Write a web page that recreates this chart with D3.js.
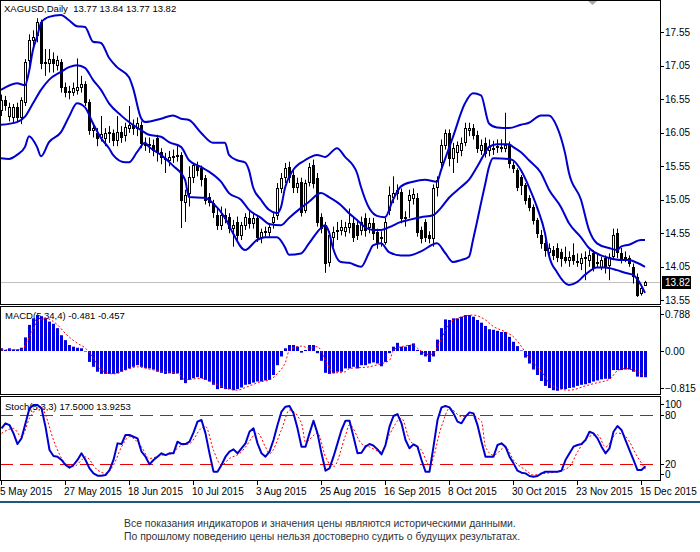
<!DOCTYPE html>
<html>
<head>
<meta charset="utf-8">
<script src="https://d3js.org/d3.v7.min.js"></script>
<style>
  body { margin: 0; background: #fff; }
  svg { display: block; font-family: "Liberation Sans", Arial, sans-serif; }
</style>
</head>
<body>
<svg id="chart" width="700" height="552"></svg>
<script>
// ---- data (XAGUSD daily, 5 May .. 16 Dec 2015) ----
const open = [16.39,16.54,16.30,16.28,16.43,16.28,16.51,17.14,17.44,17.51,
  17.70,17.09,17.09,17.15,17.06,17.11,16.73,16.66,16.66,16.69,
  16.73,16.78,16.51,16.09,16.05,15.98,15.97,16.05,16.05,15.94,
  16.06,16.02,16.12,16.17,16.12,16.17,15.88,15.87,15.87,15.97,
  15.76,15.67,15.64,15.69,15.70,15.72,15.02,15.15,15.39,15.57,
  15.52,15.38,15.09,15.00,14.82,14.67,14.82,14.79,14.63,14.72,
  14.52,14.67,14.78,14.70,14.78,14.49,14.57,14.57,14.72,14.82,
  15.23,15.38,15.54,15.42,15.24,15.32,14.90,15.32,15.57,15.38,
  14.79,14.67,14.11,14.49,14.58,14.60,14.58,14.64,14.70,14.67,
  14.60,14.78,14.64,14.70,14.57,14.48,14.42,14.90,15.09,15.15,
  15.17,14.78,15.05,15.08,15.08,14.60,14.72,14.52,14.49,15.24,
  15.61,15.87,16.05,15.67,15.76,15.79,15.91,16.09,16.12,16.02,
  15.79,15.90,15.79,15.82,15.84,15.83,15.82,15.87,15.57,15.49,
  15.39,15.27,15.08,14.94,14.75,14.52,14.40,14.27,14.30,14.33,
  14.27,14.20,14.15,14.22,14.12,14.11,14.18,14.15,14.26,14.11,
  14.04,14.18,14.08,14.20,14.55,14.26,14.19,14.18,14.04,13.90,
  13.66,13.77];
const high = [16.62,16.60,16.50,16.48,16.50,16.58,17.15,17.52,17.58,17.76,
  17.74,17.30,17.30,17.25,17.20,17.15,16.80,16.75,16.80,17.16,
  16.90,16.82,16.55,16.20,16.12,16.30,16.12,16.15,16.10,16.30,
  16.15,16.20,16.45,16.25,16.28,16.22,15.98,15.98,15.95,16.02,
  15.82,15.75,15.78,15.80,15.87,15.76,15.20,15.55,15.60,15.62,
  15.56,15.42,15.15,15.05,14.92,14.95,14.92,14.85,14.75,14.80,
  14.72,14.85,14.88,14.85,14.82,14.62,14.65,14.70,14.85,15.30,
  15.45,15.60,15.62,15.50,15.38,15.38,15.35,15.60,15.65,15.45,
  14.85,14.72,14.58,14.65,14.72,14.75,14.72,14.92,14.78,14.75,
  14.80,14.85,14.78,14.78,14.62,14.58,14.78,15.25,15.40,15.28,
  15.22,14.88,15.20,15.22,15.15,14.65,14.76,14.58,15.28,15.40,
  15.95,16.10,16.10,15.90,15.92,15.98,16.20,16.20,16.18,16.08,
  15.95,15.98,15.95,15.93,15.95,15.95,16.35,15.92,15.62,15.52,
  15.42,15.30,15.12,14.98,14.78,14.60,14.45,14.40,14.36,14.40,
  14.32,14.35,14.28,14.40,14.25,14.25,14.28,14.30,14.30,14.25,
  14.20,14.22,14.25,14.62,14.62,14.33,14.28,14.22,14.10,13.95,
  13.78,13.84];
const low = [16.30,16.38,16.22,16.20,16.22,16.18,16.45,17.05,17.30,17.40,
  17.00,16.90,16.95,16.95,16.98,16.65,16.58,16.55,16.60,16.62,
  16.65,16.45,16.02,15.98,15.85,15.92,15.85,15.90,15.85,15.85,
  15.90,15.92,16.05,16.02,16.00,15.82,15.78,15.75,15.70,15.62,
  15.58,15.45,15.55,15.60,15.62,14.63,14.72,14.95,15.30,15.40,
  15.25,14.98,14.95,14.78,14.60,14.60,14.70,14.55,14.35,14.45,
  14.45,14.60,14.62,14.62,14.42,14.40,14.50,14.50,14.62,14.75,
  15.15,15.30,15.30,15.15,15.15,14.80,14.85,15.25,15.22,14.65,
  14.55,13.96,14.05,14.35,14.45,14.52,14.50,14.55,14.42,14.45,
  14.52,14.50,14.55,14.45,14.32,14.35,14.38,14.82,15.00,15.05,
  14.70,14.65,14.78,14.98,14.50,14.40,14.42,14.40,14.35,15.10,
  15.50,15.80,15.55,15.45,15.60,15.70,15.85,16.00,15.95,15.75,
  15.72,15.68,15.70,15.72,15.75,15.76,15.76,15.52,15.45,15.18,
  15.12,14.98,14.88,14.68,14.48,14.32,14.20,14.20,14.15,14.12,
  14.05,14.10,14.05,14.08,14.05,14.00,13.85,14.05,13.98,14.05,
  14.00,13.95,13.85,14.15,14.18,14.10,14.12,14.05,13.80,13.60,
  13.62,13.77];
const close = [16.54,16.46,16.44,16.43,16.28,16.54,17.11,17.44,17.48,17.70,
  17.09,17.11,17.15,17.09,17.13,16.73,16.66,16.68,16.72,16.73,
  16.78,16.51,16.09,16.12,15.97,16.03,16.05,16.06,15.94,16.06,
  15.99,16.14,16.17,16.12,16.20,15.90,15.87,15.89,15.79,15.76,
  15.69,15.66,15.69,15.70,15.72,15.05,15.12,15.39,15.57,15.49,
  15.35,15.05,15.02,14.87,14.67,14.82,14.78,14.63,14.67,14.52,
  14.67,14.79,14.70,14.78,14.49,14.57,14.58,14.64,14.79,15.23,
  15.38,15.52,15.39,15.24,15.30,14.87,15.30,15.54,15.30,14.72,
  14.63,14.11,14.52,14.57,14.60,14.64,14.64,14.70,14.49,14.52,
  14.72,14.60,14.70,14.55,14.42,14.50,14.72,15.12,15.15,15.20,
  14.78,14.80,15.12,15.14,14.57,14.48,14.49,14.48,15.23,15.35,
  15.87,16.05,15.67,15.82,15.87,15.90,16.12,16.12,16.02,15.82,
  15.87,15.75,15.84,15.83,15.86,15.84,15.87,15.60,15.52,15.24,
  15.27,15.05,14.94,14.75,14.55,14.40,14.30,14.33,14.22,14.20,
  14.18,14.15,14.20,14.15,14.13,14.18,14.19,14.22,14.04,14.12,
  14.15,14.04,14.20,14.52,14.26,14.18,14.20,14.11,13.90,13.63,
  13.73,13.82];

// Bollinger bands, read at sampled bars
const upperBars = [0,4,6,7,8,9,10,11,12,15,17,19,21,23,25,27,29,32,33,35,36,40,43,45,47,50,53,56,57,59,61,62,63,65,67,69,70,71,73,76,79,81,84,86,89,90,92,94,96,98,100,103,106,109,110,113,116,118,120,122,124,127,130,132,135,137,139,141,142,145,147,149,152,154,155,157,160,161];
const upperVals = [16.69,16.79,16.76,16.96,17.29,17.48,17.69,17.75,17.78,17.81,17.73,17.64,17.63,17.41,17.39,17.17,17.03,16.88,16.72,16.27,16.21,16.26,16.31,16.26,16.24,16.05,15.90,15.90,15.72,15.64,15.61,15.49,15.24,15.05,14.90,14.85,14.94,15.23,15.49,15.64,15.72,15.69,15.82,15.69,15.45,15.24,14.93,14.81,14.79,15.05,15.25,15.32,15.35,15.32,15.49,15.99,16.49,16.64,16.61,16.19,16.13,16.12,16.17,16.20,16.31,16.31,16.14,15.75,15.45,15.05,14.60,14.40,14.33,14.30,14.35,14.38,14.45,14.45];
const midBars = [0,4,6,8,10,12,15,17,19,21,23,25,27,30,32,35,37,40,42,45,47,50,52,55,57,60,62,65,67,70,72,75,77,80,82,85,87,89,91,93,95,97,100,102,105,108,110,112,115,117,119,121,122,124,127,128,130,132,135,137,140,142,145,147,150,152,155,157,159,161];
const midVals = [16.17,16.21,16.29,16.49,16.69,16.84,16.96,17.03,17.06,17.02,16.84,16.69,16.49,16.31,16.21,16.09,16.02,15.99,15.91,15.84,15.64,15.54,15.47,15.32,15.15,15.05,14.90,14.78,14.69,14.67,14.78,14.93,15.02,15.15,15.09,14.97,14.85,14.75,14.64,14.60,14.60,14.64,14.72,14.75,14.79,14.82,14.93,15.08,15.24,15.35,15.54,15.75,15.84,15.88,15.88,15.84,15.76,15.64,15.45,15.20,14.94,14.70,14.49,14.33,14.22,14.18,14.15,14.15,14.11,14.05];
const lowerBars = [0,2,4,6,7,9,10,12,15,17,19,21,23,25,27,28,31,32,34,36,37,40,43,46,47,51,53,56,58,61,64,66,69,71,72,75,77,80,81,82,83,85,87,90,92,93,95,97,100,102,105,109,111,113,115,117,118,119,120,121,122,123,127,128,130,132,134,136,137,139,142,144,146,149,151,154,156,158,160,161];
const lowerVals = [15.67,15.66,15.72,15.84,16.00,15.84,15.70,15.91,16.06,16.29,16.49,16.43,16.19,15.97,15.82,15.72,15.61,15.61,15.76,15.90,15.84,15.72,15.56,15.35,15.09,15.08,15.00,14.78,14.55,14.30,14.45,14.49,14.49,14.34,14.23,14.25,14.40,14.63,14.67,14.57,14.33,14.12,14.11,14.05,14.26,14.37,14.40,14.27,14.22,14.22,14.28,14.40,14.26,14.12,14.15,14.20,14.45,14.72,15.00,15.27,15.54,15.67,15.66,15.64,15.49,15.24,14.94,14.55,14.22,13.97,13.78,13.82,13.93,14.04,14.04,14.00,13.96,13.93,13.78,13.66];

// MACD(5,34,4) histogram per bar, signal sampled
const macd = [0.05,0.02,0.05,0.03,0.03,0.06,0.25,0.48,0.60,0.66,
  0.64,0.60,0.54,0.50,0.42,0.29,0.20,0.11,0.08,0.06,
  0.05,-0.01,-0.20,-0.29,-0.38,-0.42,-0.42,-0.42,-0.42,-0.41,
  -0.38,-0.35,-0.32,-0.29,-0.26,-0.29,-0.31,-0.32,-0.34,-0.38,
  -0.40,-0.42,-0.41,-0.42,-0.41,-0.53,-0.59,-0.53,-0.50,-0.48,
  -0.50,-0.53,-0.56,-0.62,-0.70,-0.68,-0.70,-0.70,-0.72,-0.70,
  -0.67,-0.62,-0.61,-0.58,-0.56,-0.56,-0.54,-0.53,-0.44,-0.26,
  -0.10,0.05,0.11,0.11,0.08,-0.03,0.02,0.11,0.11,-0.04,
  -0.18,-0.40,-0.42,-0.41,-0.38,-0.38,-0.32,-0.32,-0.29,-0.32,
  -0.26,-0.26,-0.23,-0.21,-0.23,-0.28,-0.20,-0.04,0.08,0.15,
  0.08,0.08,0.11,0.14,0.02,-0.07,-0.10,-0.20,-0.10,0.21,
  0.42,0.58,0.57,0.60,0.60,0.63,0.66,0.66,0.63,0.57,
  0.52,0.46,0.40,0.39,0.37,0.35,0.35,0.26,0.17,0.09,
  0.01,-0.12,-0.23,-0.34,-0.44,-0.55,-0.64,-0.68,-0.72,-0.73,
  -0.70,-0.70,-0.68,-0.67,-0.64,-0.62,-0.61,-0.59,-0.56,-0.54,
  -0.52,-0.51,-0.51,-0.35,-0.35,-0.35,-0.34,-0.34,-0.38,-0.47,
  -0.48,-0.481];
const macdSigBars = [0,5,7,9,11,14,16,19,21,23,25,28,31,34,36,40,44,46,50,53,56,59,61,65,67,69,71,72,75,77,79,81,83,86,87,92,93,97,98,100,103,104,107,108,110,112,114,118,121,123,126,128,130,132,135,137,139,142,146,149,152,154,156,158,161];
const macdSigVals = [0.02,0.03,0.26,0.54,0.60,0.48,0.32,0.14,0.05,-0.13,-0.35,-0.42,-0.35,-0.29,-0.32,-0.37,-0.41,-0.53,-0.50,-0.59,-0.68,-0.72,-0.67,-0.56,-0.53,-0.41,-0.20,0.02,0.09,0.05,0.08,-0.17,-0.40,-0.38,-0.32,-0.29,-0.27,-0.17,0.02,0.08,0.11,0.05,-0.07,-0.04,0.23,0.51,0.60,0.66,0.57,0.45,0.35,0.26,0.08,-0.13,-0.38,-0.59,-0.68,-0.72,-0.64,-0.58,-0.52,-0.36,-0.32,-0.35,-0.457];

// Stochastic(5,3,3) %K per bar, signal sampled
const stochK = [63.7,69.8,67.7,57.6,44.6,51.5,69.8,88,92,92,
  88,65.7,37.3,30,29.2,25.2,19.1,15.8,19.1,25.2,
  33.3,25.2,15,8.9,6.1,6.1,6.9,13,25.2,45.4,
  44.6,55.6,55.6,53.5,51.5,35.3,29.2,19.9,25.2,29.2,
  33.3,31.2,33.3,33.3,47.5,44.6,44.6,47.5,58.4,71.8,
  73.8,57.6,33.3,11,11,19.1,29.2,35.3,38.1,33.3,
  39.4,45.4,59.6,63.7,45.4,33.3,29.2,35.3,49.5,67.7,
  84,90,90.9,81.9,63.7,41.4,41.4,57.6,73,57.6,
  33.3,12.2,15,29.2,45.4,61.7,73,73,53.5,33.3,
  34,41.4,44.6,42.6,38.1,32,43.4,65.7,78.7,81.1,
  69.8,49.5,39.4,44.2,41.4,25.2,11,11,41.4,73.8,
  89.2,90.9,89.2,81.9,71.8,69.8,77.9,83.1,81.9,67.7,
  47.5,29.2,29.2,29.2,43.4,45.4,41.4,29.2,21.1,12.2,
  9.8,8.9,5.7,4.9,5.7,8.9,11,11,11,11,
  12.2,25.2,33.3,41.4,43.4,44.6,49.5,59.6,57.6,51.5,
  41.4,33.3,39.4,59.6,66.5,61.7,49.5,37.3,25.2,13,
  13,17.5];
const stochSigBars = [0,3,5,7,10,11,13,16,18,20,21,24,26,28,30,32,35,37,40,42,45,47,50,51,53,55,57,60,61,64,66,67,70,72,75,76,79,81,83,86,87,90,92,95,97,100,102,105,107,110,112,115,117,120,121,123,126,128,131,133,136,139,142,144,147,149,151,154,156,159,161];
const stochSigVals = [57.6,63.7,53.5,76,90,80,49.5,21,17,25,29,13,9,19,41,53.5,41,27,31,32,43,45,64,66,37,19,27,35,41,58,41,33,62,86,70,47,58,29,17,55,68,45,41,35,56,76,50,37,19,66,88,78,80,72,41,31,41,25,13,7,9,11,17,35,54,56,41,58,54,29,13.9];

const priceTicks = [17.55,17.05,16.55,16.05,15.55,15.05,14.55,14.05,13.55];
const macdTicks = [0.788,0.00,-0.815];
const stochTicks = [100,80,20,0];
const stochLevels = [80,20];
const dateBars = [0,16,32,48,64,80,96,112,128,144,160];
const dateLabels = ['5 May 2015','27 May 2015','18 Jun 2015','10 Jul 2015','3 Aug 2015','25 Aug 2015',
  '16 Sep 2015','8 Oct 2015','30 Oct 2015','23 Nov 2015','15 Dec 2015'];
const lastPrice = 13.82;

// ---- layout ----
const svg = d3.select('#chart');
const right = 660;
const pricePanel = {top: 0, bottom: 304};
const macdPanel = {top: 306, bottom: 394};
const stochPanel = {top: 396, bottom: 480};
const blue = '#0000cd';

const x = d3.scaleLinear().domain([0, 161]).range([1, 645]);
const yPrice = d3.scaleLinear().domain([13.55, 17.55]).range([300.3, 32.3]);
const yMacd = d3.scaleLinear().domain([-0.815, 0.788]).range([395.4, 308.1]);
const yStoch = d3.scaleLinear().domain([0, 100]).range([480.7, 398.5]);

svg.append('rect').attr('width', 700).attr('height', 552).attr('fill', '#fff');

const defs = svg.append('defs');
function clip(id, p) {
  defs.append('clipPath').attr('id', id)
    .append('rect').attr('x', 0).attr('y', p.top).attr('width', right).attr('height', p.bottom - p.top);
}
clip('cPrice', pricePanel); clip('cMacd', macdPanel); clip('cStoch', stochPanel);

// labels sit under the marks
const lbl = svg.append('g').attr('font-size', '9.5px').attr('fill', '#000');
lbl.append('text').attr('x', 4).attr('y', 12).attr('xml:space', 'preserve')
  .text('XAGUSD,Daily  13.77 13.84 13.77 13.82');
lbl.append('text').attr('x', 5).attr('y', 319).text('MACD(5,34,4) -0.481 -0.457');
lbl.append('text').attr('x', 5).attr('y', 410).text('Stoch(5,3,3) 17.5000 13.9253');

// ---- price panel ----
const gp = svg.append('g').attr('clip-path', 'url(#cPrice)');
gp.append('line').attr('x1', 0).attr('x2', right)
  .attr('y1', Math.round(yPrice(lastPrice)) + 0.5).attr('y2', Math.round(yPrice(lastPrice)) + 0.5)
  .attr('stroke', '#c0c0c0');

const bars = d3.range(open.length);
gp.selectAll('line.wick').data(bars).enter().append('line')
  .attr('class', 'wick')
  .attr('x1', i => x(i) + 0.5).attr('x2', i => x(i) + 0.5)
  .attr('y1', i => yPrice(high[i])).attr('y2', i => yPrice(low[i]))
  .attr('stroke', '#000');
gp.selectAll('rect.body').data(bars).enter().append('rect')
  .attr('class', 'body')
  .attr('x', i => x(i) - 0.5)
  .attr('width', 2)
  .attr('y', i => Math.round(yPrice(Math.max(open[i], close[i]))) + 0.5)
  .attr('height', i => Math.max(0, Math.round(Math.abs(yPrice(open[i]) - yPrice(close[i])))))
  .attr('fill', i => close[i] >= open[i] ? '#fff' : '#000')
  .attr('stroke', '#000');

const bandLine = d3.line().curve(d3.curveMonotoneX).x(d => x(d[0])).y(d => yPrice(d[1]));
[[upperBars, upperVals], [midBars, midVals], [lowerBars, lowerVals]].forEach(([b, v]) => {
  gp.append('path').datum(b.map((bi, k) => [bi, v[k]]))
    .attr('d', bandLine).attr('fill', 'none').attr('stroke', blue).attr('stroke-width', 2);
});

// ---- MACD panel ----
const gm = svg.append('g').attr('clip-path', 'url(#cMacd)');
gm.selectAll('rect').data(bars).enter().append('rect')
  .attr('x', i => x(i) - 1)
  .attr('width', 3)
  .attr('y', i => Math.min(yMacd(0), yMacd(macd[i])))
  .attr('height', i => Math.abs(yMacd(macd[i]) - yMacd(0)))
  .attr('fill', '#0000e0');
gm.append('path').datum(macdSigBars.map((b, k) => [b, macdSigVals[k]]))
  .attr('d', d3.line().curve(d3.curveMonotoneX).x(d => x(d[0]) + 0.5).y(d => yMacd(d[1])))
  .attr('fill', 'none').attr('stroke', '#ff0000').attr('stroke-dasharray', '2,2');

// ---- Stochastic panel ----
const gs = svg.append('g').attr('clip-path', 'url(#cStoch)');
gs.selectAll('line.lvl').data(stochLevels).enter().append('line')
  .attr('x1', 0).attr('x2', right)
  .attr('y1', d => Math.round(yStoch(d)) + 0.5).attr('y2', d => Math.round(yStoch(d)) + 0.5)
  .attr('stroke', '#ee0000').attr('stroke-dasharray', '13,7');
gs.append('path').datum(stochSigBars.map((b, k) => [b, stochSigVals[k]]))
  .attr('d', d3.line().curve(d3.curveMonotoneX).x(d => x(d[0]) + 0.5).y(d => yStoch(d[1])))
  .attr('fill', 'none').attr('stroke', '#ff0000').attr('stroke-dasharray', '2,2');
gs.append('path').datum(stochK)
  .attr('d', d3.line().x((d, i) => x(i) + 0.5).y(d => yStoch(d)))
  .attr('fill', 'none').attr('stroke', blue).attr('stroke-width', 2).attr('stroke-linejoin', 'round');

// ---- frames ----
[pricePanel, macdPanel, stochPanel].forEach(p => {
  svg.append('rect').attr('x', 0.5).attr('y', p.top + 0.5)
    .attr('width', right).attr('height', p.bottom - p.top)
    .attr('fill', 'none').attr('stroke', '#000');
});

// ---- right axes ----
const ax = svg.append('g').attr('font-size', '10px').attr('fill', '#000');
function axisLabels(ticks, scale, panel, fmt, clamp) {
  ticks.forEach(t => {
    let yy = scale(t);
    if (clamp) yy = Math.max(panel.top + 8, Math.min(panel.bottom - 6, yy));
    ax.append('line').attr('x1', right + 1).attr('x2', right + 4)
      .attr('y1', Math.round(yy) + 0.5).attr('y2', Math.round(yy) + 0.5).attr('stroke', '#000');
    ax.append('text').attr('x', right + 5).attr('y', yy).attr('dy', '0.36em').text(fmt(t));
  });
}
priceTicks.filter(t => yPrice(t) < pricePanel.bottom - 3).forEach(t => {
  ax.append('line').attr('x1', right + 1).attr('x2', right + 4)
    .attr('y1', Math.round(yPrice(t)) + 0.5).attr('y2', Math.round(yPrice(t)) + 0.5).attr('stroke', '#000');
});
ax.append('clipPath').attr('id', 'cAx').append('rect').attr('x', right).attr('y', 0).attr('width', 40).attr('height', pricePanel.bottom);
const paxT = ax.append('g').attr('clip-path', 'url(#cAx)');
priceTicks.forEach(t => {
  paxT.append('text').attr('x', right + 5).attr('y', yPrice(t)).attr('dy', '0.36em').text(d3.format('.2f')(t));
});
// current price tag
const ly = yPrice(lastPrice);
ax.append('rect').attr('x', right + 2).attr('y', Math.round(ly) - 6).attr('width', 29).attr('height', 13).attr('fill', '#000');
ax.append('text').attr('x', right + 5).attr('y', ly).attr('dy', '0.36em').attr('fill', '#fff').text(lastPrice.toFixed(2));

axisLabels(macdTicks, yMacd, macdPanel, t => t === 0 ? '0.00' : d3.format('.3f')(t), true);
axisLabels(stochTicks, yStoch, stochPanel, t => String(t), true);

// ---- date axis ----
const dax = svg.append('g').attr('font-size', '10px').attr('fill', '#000');
dateBars.forEach((b, k) => {
  dax.append('line').attr('x1', x(b) + 0.5).attr('x2', x(b) + 0.5)
    .attr('y1', stochPanel.bottom + 1).attr('y2', stochPanel.bottom + 5).attr('stroke', '#000');
  dax.append('text').attr('x', x(b) - 1).attr('y', 495).text(dateLabels[k]);
});

// shift marker at top
svg.append('path').attr('d', 'M588,1L597,1L592.5,5Z').attr('fill', '#a8a8a8');

// ---- footer ----
svg.append('rect').attr('x', 0).attr('y', 501).attr('width', 700).attr('height', 2).attr('fill', '#1b5a78');
const ft = svg.append('g').attr('font-size', '10.4px').attr('fill', '#333');
ft.append('text').attr('x', 124).attr('y', 527)
  .text('Все показания индикаторов и значения цены являются историческими данными.');
ft.append('text').attr('x', 124).attr('y', 540)
  .text('По прошлому поведению цены нельзя достоверно судить о будущих результатах.');
</script>
</body>
</html>
